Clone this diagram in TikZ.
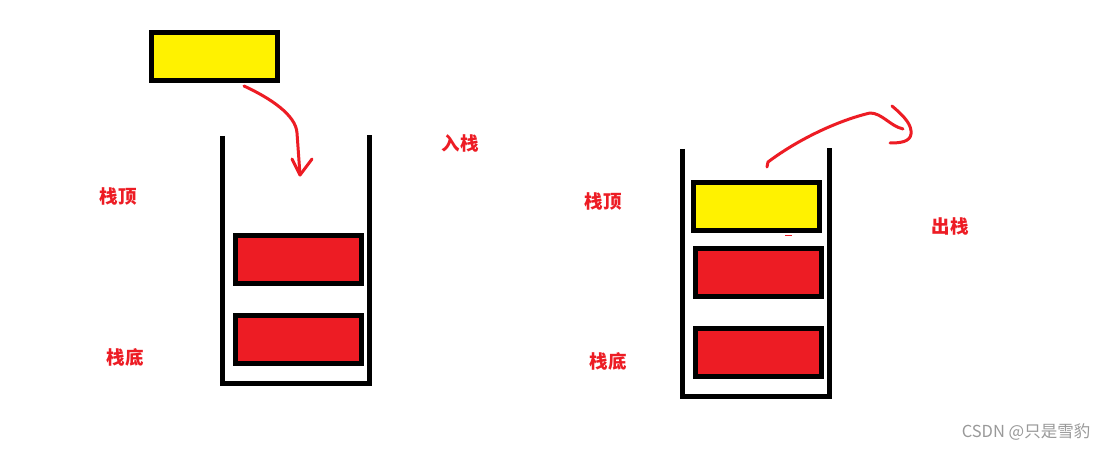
\documentclass[tikz,border=0pt]{standalone}
\usepackage{fontspec}
\newfontfamily\cjk{Noto Sans CJK SC}
\definecolor{pred}{HTML}{ED1C24}
\definecolor{pyel}{HTML}{FFF200}
\begin{document}
\begin{tikzpicture}[x=1pt,y=-1pt,
  wall/.style={line width=5pt,black},
  block/.style={draw=black,line width=5pt},
  redblock/.style={block,fill=pred},
  yelblock/.style={block,fill=pyel},
  lbl/.style={text=pred,font=\cjk\bfseries\fontsize{18.5}{18.5}\selectfont,inner sep=0pt},
  stroke/.style={draw=pred,line width=3pt,line cap=round,line join=round}]
\useasboundingbox[fill=white] (0,0) rectangle (1108,449);
% left stack
\coordinate (L1) at (222.5,136);
\coordinate (L2) at (222.5,383.5);
\coordinate (L3) at (369.5,383.5);
\coordinate (L4) at (369.5,135);
\draw[wall] (L1) -- (L2) -- (L3) -- (L4);
\draw[yelblock] (151.5,32.5) rectangle (277.5,80.5) coordinate (yA);
\draw[redblock] (235.5,235.5) rectangle (361.5,283.5) coordinate (rA);
\draw[redblock] (235.5,315.5) rectangle (361.5,363.5) coordinate (rB);
% push arrow
\coordinate (p0) at (244,86);
\coordinate (p1) at (297,133);
\coordinate (p2) at (300,175);
\coordinate (pl) at (292,159);
\coordinate (pr) at (312,159);
\draw[stroke] (p0) .. controls (270,98) and (296,115) .. (p1) -- (p2);
\draw[stroke] (pl) -- (p2) -- (pr);
% right stack
\coordinate (R1) at (682.5,149);
\coordinate (R2) at (682.5,396.5);
\coordinate (R3) at (829.5,396.5);
\coordinate (R4) at (829.5,148);
\draw[wall] (R1) -- (R2) -- (R3) -- (R4);
\draw[yelblock] (693.5,182.5) rectangle (819.5,230.5) coordinate (yB);
\draw[redblock] (695.5,248.5) rectangle (821.5,296.5) coordinate (rC);
\draw[redblock] (695.5,328.5) rectangle (821.5,376.5) coordinate (rD);
\coordinate (d0) at (785,235.5);
\coordinate (d1) at (792,235.5);
\draw[draw=pred,line width=1.2pt] (d0) -- (d1);
% pop arrow
\coordinate (q0) at (767,167);
\coordinate (q1) at (870,113);
\coordinate (q2) at (903,129);
\draw[stroke] (q0) -- (768,162) .. controls (800,138) and (840,120) .. (q1) .. controls (882,113) and (890,126) .. (q2);
\coordinate (h0) at (892,106);
\coordinate (h1) at (890,143);
\draw[stroke] (h0) .. controls (905,117) and (912,125) .. (911,134) .. controls (910,142) and (900,143) .. (h1);
% labels
\node[lbl] (t1) at (118,196.5) {栈顶};
\node[lbl] (t2) at (460,143) {入栈};
\node[lbl] (t3) at (125,357) {栈底};
\node[lbl] (t4) at (603,201) {栈顶};
\node[lbl] (t5) at (950,226) {出栈};
\node[lbl] (t6) at (608,361) {栈底};
\node[text=black!40,font=\cjk\fontsize{16.5}{16.5}\selectfont,inner sep=0pt] (wm) at (1026,432) {CSDN @只是雪豹};
\end{tikzpicture}
\end{document}
